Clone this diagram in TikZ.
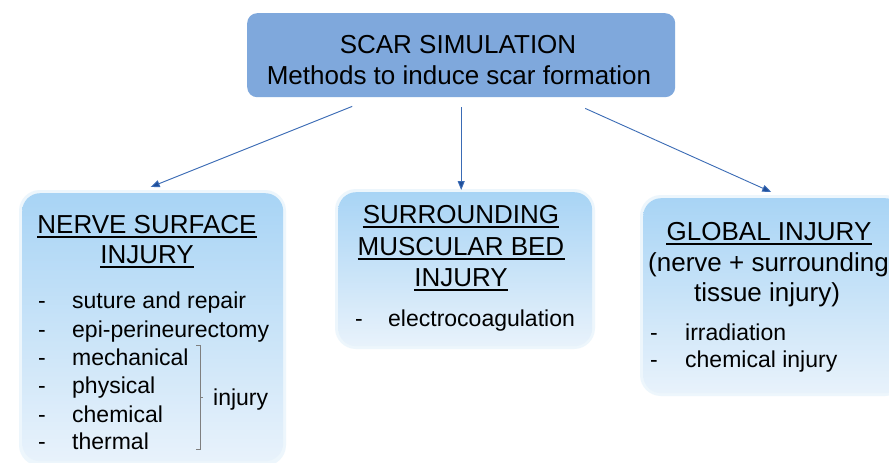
\documentclass[tikz,border=0pt]{standalone}
\usepackage{fontspec}
\setmainfont{Liberation Sans}
\usetikzlibrary{arrows.meta}
\definecolor{topfill}{HTML}{7FA8DC}
\definecolor{boxtop}{HTML}{A8D4F5}
\definecolor{boxbot}{HTML}{E8F2FB}
\definecolor{arrowc}{HTML}{3A6BB5}
\definecolor{headc}{HTML}{1F4E9A}
\definecolor{bracketc}{HTML}{7F7F7F}
\begin{document}
\begin{tikzpicture}[x=1pt,y=-1pt,
  big/.style={font=\fontsize{26}{30}\selectfont, inner sep=0pt, anchor=base},
  bigw/.style={font=\fontsize{26}{30}\selectfont, inner sep=0pt, anchor=base west},
  item/.style={font=\fontsize{23}{27}\selectfont, inner sep=0pt, anchor=base west},
  conn/.style={draw=arrowc, line width=0.9pt, -{Triangle[length=9pt,width=7pt,fill=headc]}},
  panel/.style={rounded corners=18pt, top color=boxtop, bottom color=boxbot, draw=none, inner sep=0pt, anchor=north west},
  halo/.style={rounded corners=21pt, fill=boxtop!45!white, opacity=0.45, draw=none},
  ul/.style={line width=1.6pt}
]
\useasboundingbox (0,0) rectangle (889,463);
\clip (0,0) rectangle (889,463);
\fill[white] (0,0) rectangle (889,463);

% soft halos behind panels
\fill[halo] (19,190) rectangle (286,466);
\fill[halo] (335,189) rectangle (595,349);
\fill[halo] (640,195) rectangle (906,396);

% boxes
\node[fill=topfill, rounded corners=10pt, draw=none, inner sep=0pt, anchor=north west,
      minimum width=428pt, minimum height=84pt] (top) at (247,13) {};
\node[panel, minimum width=261pt, minimum height=268pt] (left) at (22,193) {};
\node[panel, minimum width=254pt, minimum height=154pt] (mid) at (338,192) {};
\node[panel, minimum width=260pt, minimum height=195pt] (right) at (643,198) {};

% connectors
\draw[conn] ([xshift=-109pt,yshift=-9pt]top.south) -- ([xshift=-2pt,yshift=6pt]left.north);
\draw[conn] ([yshift=-10pt]top.south) -- ([xshift=-4pt,yshift=2pt]mid.north);
\draw[conn] ([xshift=124pt,yshift=-11pt]top.south) -- ([xshift=-2pt,yshift=6pt]right.north);

% top text
\node[big] (t1) at (458,53) {SCAR SIMULATION};
\node[big] (t2) at (459,84) {Methods to induce scar formation};

% left panel
\node[big] (l1) at (147,233) {NERVE SURFACE};
\node[big] (l2) at (147,263) {INJURY};
\draw[ul] ([yshift=-4pt]l1.base west) -- ([yshift=-4pt]l1.base east);
\draw[ul] ([yshift=-4pt]l2.base west) -- ([yshift=-4pt]l2.base east);
\foreach \y/\t [count=\i] in {308/suture and repair, 337/epi-perineurectomy, 365/mechanical, 393/physical, 422/chemical, 449/thermal}{
  \node[item] (ld\i) at (38,\y) {-};
  \node[item] (li\i) at (72,\y) {\t};
}
\node[item] (linj) at (213,405) {injury};
\draw[bracketc, line width=0.8pt] (196,345) coordinate (b1) -- (200,345) -- (200,449) -- (196,449) coordinate (b2);
\draw[bracketc, line width=0.8pt] (200,397) coordinate (b3) -- (203,397) coordinate (b4);

% middle panel
\node[big] (m1) at (461,223) {SURROUNDING};
\node[big] (m2) at (461,255) {MUSCULAR BED};
\node[big] (m3) at (461,286) {INJURY};
\draw[ul] ([yshift=-4pt]m1.base west) -- ([yshift=-4pt]m1.base east);
\draw[ul] ([yshift=-4pt]m2.base west) -- ([yshift=-4pt]m2.base east);
\draw[ul] ([yshift=-4pt]m3.base west) -- ([yshift=-4pt]m3.base east);
\node[item] (md1) at (355,326) {-};
\node[item] (mi1) at (388,326) {electrocoagulation};

% right panel
\node[big] (r1) at (769,240) {GLOBAL INJURY};
\draw[ul] ([yshift=-4pt]r1.base west) -- ([yshift=-4pt]r1.base east);
\node[bigw] (r2) at (648,271) {(nerve + surrounding};
\node[big] (r3) at (767,301) {tissue injury)};
\node[item] (rd1) at (650,340) {-};
\node[item] (ri1) at (685,340) {irradiation};
\node[item] (rd2) at (650,367) {-};
\node[item] (ri2) at (685,367) {chemical injury};
\end{tikzpicture}
\end{document}
